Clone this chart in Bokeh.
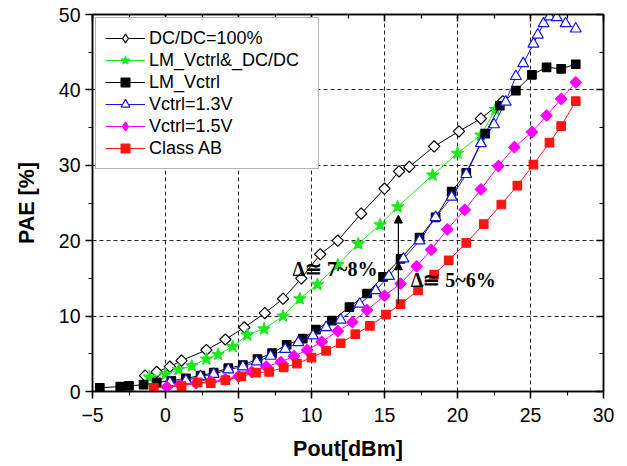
import numpy as np
from bokeh.plotting import figure
from bokeh.models import (LinearAxis, Range1d, SingleIntervalTicker, Legend, LegendItem,
                          Arrow, NormalHead, Label)
from bokeh.embed import file_html
from bokeh.resources import INLINE

# ---------------- data ----------------
dcdc_x = [-1.4, -0.6, 0.3, 1.1, 2.8, 4.1, 5.4, 6.8, 8.05, 9.3, 10.6, 11.8, 13.4, 15.0, 16.0, 16.7, 18.4, 20.1, 21.6, 23.1]
dcdc_y = [2.1, 2.6, 3.3, 4.1, 5.5, 6.9, 8.5, 10.4, 12.3, 15.0, 18.2, 20.0, 23.6, 26.9, 29.2, 29.8, 32.5, 34.5, 36.2, 38.5]

lmdc_x = [-1.1, 0.0, 0.9, 1.8, 2.8, 3.6, 4.6, 5.6, 6.75, 8.05, 9.2, 10.4, 11.8, 13.2, 14.7, 15.9, 18.3, 20.0, 21.6, 22.6]
lmdc_y = [1.9, 2.3, 2.9, 3.4, 4.3, 4.9, 5.95, 7.5, 8.3, 10.0, 12.3, 14.2, 16.8, 19.6, 22.1, 24.5, 28.7, 31.6, 34.0, 37.4]

lm_x = [-4.5, -3.1, -2.5, -1.5, -0.6, 0.4, 1.4, 2.4, 3.3, 4.3, 5.3, 6.3, 7.3, 8.3, 9.4, 10.3, 11.4, 12.6, 13.8,
        14.9, 16.1, 17.4, 18.5, 19.6, 20.6, 21.9, 22.9, 24.0, 25.1, 26.1, 27.1, 28.1]
lm_y = [0.5, 0.65, 0.75, 0.9, 1.2, 1.4, 1.75, 2.1, 2.5, 3.1, 3.5, 4.3, 5.1, 6.2, 7.0, 8.2, 9.4, 11.2, 13.0,
        15.2, 17.6, 20.4, 23.1, 26.5, 29.0, 34.2, 37.9, 39.9, 42.0, 43.0, 42.8, 43.4]

v13_x = [0.3, 1.4, 2.4, 3.3, 4.3, 5.3, 6.25, 7.2, 8.2, 9.1, 10.1, 11.0, 12.0, 13.3, 14.4, 15.3, 16.3, 17.4,
         18.5, 19.6, 20.6, 21.6, 22.5, 23.3, 24.0, 24.5, 25.2, 25.5, 25.9, 26.3, 26.8, 27.4, 28.1]
v13_y = [1.2, 1.45, 2.0, 2.3, 2.9, 3.3, 3.95, 4.7, 5.6, 6.5, 7.4, 8.5, 9.5, 11.6, 13.4, 15.3, 17.6, 20.0,
         23.1, 25.8, 28.8, 32.9, 35.4, 38.4, 41.8, 43.5, 46.1, 47.3, 48.8, 49.7, 49.6, 48.8, 48.1]

v15_x = [0.1, 1.0, 2.1, 3.1, 4.1, 5.0, 5.9, 6.9, 7.9, 8.8, 9.7, 10.7, 11.8, 12.8, 13.8, 15.0, 16.1, 17.2,
         18.2, 19.3, 20.5, 21.6, 22.8, 23.9, 25.1, 26.1, 27.1, 28.1]
v15_y = [0.6, 0.9, 1.1, 1.3, 1.6, 2.0, 2.6, 3.3, 3.9, 4.7, 5.5, 6.6, 8.0, 9.2, 10.8, 12.7, 14.3, 16.6,
         18.8, 21.5, 24.1, 26.8, 29.9, 32.4, 34.4, 36.6, 38.8, 41.0]

ab_x = [-0.8, 1.1, 2.2, 3.1, 4.1, 5.2, 6.2, 7.1, 8.1, 9.0, 10.0, 11.0, 12.0, 13.0, 14.0, 15.1, 16.1, 17.3,
        18.4, 19.4, 20.6, 21.8, 23.0, 24.1, 25.2, 26.3, 27.1, 28.1]
ab_y = [0.5, 0.7, 1.2, 1.1, 1.5, 2.0, 2.5, 2.6, 3.2, 3.7, 4.5, 5.4, 6.4, 7.6, 8.7, 10.2, 11.6, 13.4,
        15.5, 17.4, 19.7, 22.2, 24.8, 27.3, 30.1, 33.0, 35.2, 38.5]

series_names = ["DC/DC=100%", "LM_Vctrl&_DC/DC", "LM_Vctrl", "Vctrl=1.3V", "Vctrl=1.5V", "Class AB"]

# ---------------- figure ----------------
p = figure(width=627, height=466, x_range=Range1d(-5, 30), y_range=Range1d(0, 50),
           output_backend="svg", toolbar_location=None,
           min_border_left=92, min_border_right=24, min_border_top=14, min_border_bottom=75)
p.background_fill_color = "white"
p.border_fill_color = "white"
p.outline_line_color = "black"
p.outline_line_width = 1.5

xt = SingleIntervalTicker(interval=5, num_minor_ticks=2)
yt = SingleIntervalTicker(interval=10, num_minor_ticks=2)

SANS = "Liberation Sans"

def style_axis(ax, ticker, labels=True, inward=False):
    ax.ticker = ticker
    ax.axis_line_color = "black"
    ax.axis_line_width = 1.5
    ax.major_tick_line_color = "black"
    ax.minor_tick_line_color = "black"
    ax.major_tick_line_width = 1.5
    ax.minor_tick_line_width = 1.2
    if inward:
        ax.major_tick_in, ax.major_tick_out = 7, 0
        ax.minor_tick_in, ax.minor_tick_out = 4, 0
    else:
        ax.major_tick_in, ax.major_tick_out = 0, 7
        ax.minor_tick_in, ax.minor_tick_out = 0, 4
    if labels:
        ax.major_label_text_font = SANS
        ax.major_label_text_font_size = "19.5px"
        ax.major_label_text_color = "black"
    else:
        ax.major_label_text_font_size = "9px"
        ax.major_label_text_color = None
        ax.major_label_standoff = 0

xa = p.xaxis[0]
ya = p.yaxis[0]
style_axis(xa, xt)
style_axis(ya, yt)
xa.major_label_standoff = 9
ya.major_label_standoff = 5
xa.axis_label = "Pout[dBm]"
ya.axis_label = "PAE [%]"
for ax in (xa, ya):
    ax.axis_label_text_font = SANS
    ax.axis_label_text_font_style = "bold"
    ax.axis_label_text_font_size = "21.5px"
    ax.axis_label_text_color = "black"
xa.axis_label_standoff = 12
ya.axis_label_standoff = 17

top_ax = LinearAxis()
right_ax = LinearAxis()
style_axis(top_ax, SingleIntervalTicker(interval=5, num_minor_ticks=2), labels=False, inward=True)
style_axis(right_ax, SingleIntervalTicker(interval=10, num_minor_ticks=2), labels=False, inward=True)
p.add_layout(top_ax, "above")
p.add_layout(right_ax, "right")

for g in (p.xgrid[0], p.ygrid[0]):
    g.grid_line_color = "black"
    g.grid_line_dash = "4 3"
    g.grid_line_width = 1
    g.grid_line_alpha = 0.85
p.xgrid[0].ticker = xt
p.ygrid[0].ticker = yt

# ---------------- series ----------------
items = []

def add_series(name, xs, ys, color, marker, size, fill, angle=0.0, legend_marker=None):
    ln = p.line(xs, ys, line_color=color, line_width=1)
    sc = p.scatter(xs, ys, marker=marker, size=size, fill_color=fill, line_color=color,
                   line_width=1.2, angle=angle)
    rends = [ln, sc]
    if legend_marker is not None:
        # legend-only glyph (a single NaN point, never visible) so the legend shows a diamond
        dummy = p.scatter([np.nan], [np.nan], marker=legend_marker, fill_color=fill,
                          line_color=color, line_width=1.2)
        rends = [ln, dummy]
    items.append(LegendItem(label=name, renderers=rends))

add_series(series_names[0], dcdc_x, dcdc_y, "black", "square", 8, "white",
           angle=np.pi / 4, legend_marker="diamond")
add_series(series_names[1], lmdc_x, lmdc_y, "#1EE81E", "star", 13, "#1EE81E")
add_series(series_names[2], lm_x, lm_y, "black", "square", 8.5, "black")
add_series(series_names[3], v13_x, v13_y, "#1414E6", "triangle", 11, "white")
add_series(series_names[4], v15_x, v15_y, "#FF00FF", "square", 8, "#FF00FF",
           angle=np.pi / 4, legend_marker="diamond")
add_series(series_names[5], ab_x, ab_y, "#FF1414", "square", 8.5, "#FF1414")

legend = Legend(items=items, location="top_left")
legend.margin = 3
legend.padding = 9
legend.spacing = 0
legend.glyph_width = 40
legend.glyph_height = 22
legend.label_height = 22
legend.label_width = 160
legend.label_standoff = 4
legend.label_text_font = SANS
legend.label_text_font_size = "18px"
legend.label_text_color = "black"
legend.border_line_color = "#666666"
legend.border_line_width = 1.5
legend.background_fill_color = "white"
legend.background_fill_alpha = 1.0
p.add_layout(legend)

# ---------------- annotations ----------------
p.add_layout(Arrow(end=NormalHead(size=8, fill_color="black", line_color="black"),
                   x_start=15.95, y_start=11.6, x_end=15.95, y_end=17.2,
                   line_color="black", line_width=1.2))
p.add_layout(Arrow(end=NormalHead(size=8, fill_color="black", line_color="black"),
                   x_start=15.95, y_start=17.2, x_end=15.95, y_end=23.4,
                   line_color="black", line_width=1.2))
p.add_layout(Label(x=8.7, y=16.3, text="\u0394\u2245 7~8%", text_font="Liberation Serif",
                   text_font_style="bold", text_font_size="20px", text_baseline="middle",
                   text_color="black"))
p.add_layout(Label(x=16.8, y=14.85, text="\u0394\u2245 5~6%", text_font="Liberation Serif",
                   text_font_style="bold", text_font_size="20px", text_baseline="middle",
                   text_color="black"))

open("out.html", "w").write(file_html(p, INLINE))
